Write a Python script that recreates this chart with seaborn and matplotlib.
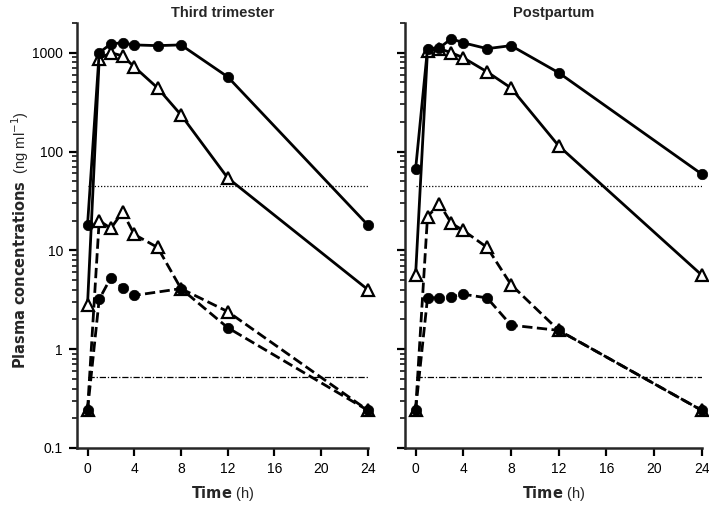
import numpy as np
import pandas as pd
import matplotlib
matplotlib.use("Agg")
import matplotlib.pyplot as plt
import matplotlib.ticker as mticker
import seaborn as sns

# ---- data ----
time_h = [0, 1, 2, 3, 4, 6, 8, 12, 24]

# Third trimester
tt_solid_circle = [18, 1000, 1230, 1260, 1200, 1180, 1200, 570, 18]
tt_solid_tri = [2.8, 870, 1000, 930, 720, 440, 235, 54, 4.0]
tt_dash_tri = [0.24, 20, 16.7, 24.5, 14.5, 10.7, 4.1, 2.4, 0.24]
tt_dash_circle = [0.24, 3.2, 5.3, 4.2, 3.5, None, 4.1, 1.65, 0.24]

# Postpartum
pp_solid_circle = [66, 1100, 1120, 1390, 1260, 1100, 1180, 627, 59]
pp_solid_tri = [5.6, 1050, 1100, 1000, 890, 640, 440, 114, 5.6]
pp_dash_tri = [0.24, 22, 29.5, 18.8, 15.9, 10.7, 4.5, 1.55, 0.24]
pp_dash_circle = [0.24, 3.3, 3.3, 3.4, 3.6, 3.3, 1.75, 1.55, 0.24]

ref_upper = 45
ref_lower = 0.52

panel_titles = ["Third trimester", "Postpartum"]
x_ticks = [0, 4, 8, 12, 16, 20, 24]
y_ticks = [0.1, 1, 10, 100, 1000]
y_ticklabels = ["0.1", "1", "10", "100", "1000"]

sns.set_style("ticks")
plt.rcParams["font.family"] = ["Liberation Sans", "DejaVu Sans"]

fig = plt.figure(figsize=(7.09, 5.11), dpi=100)
ax1 = fig.add_axes([0.1086, 0.1233, 0.519 - 0.1086, 0.955 - 0.1233])
ax2 = fig.add_axes([0.571, 0.1233, 0.990 - 0.571, 0.955 - 0.1233])

panels = [
    (ax1, tt_solid_circle, tt_solid_tri, tt_dash_tri, tt_dash_circle, panel_titles[0]),
    (ax2, pp_solid_circle, pp_solid_tri, pp_dash_tri, pp_dash_circle, panel_titles[1]),
]

lw = 2.0
ms = 7.5
mew = 1.6
dash = (3.2, 1.6)


def frame(vals):
    return pd.DataFrame({"t": time_h, "c": vals}).dropna()


for i, (ax, sc, st, dt, dc, title) in enumerate(panels):
    ax.set_yscale("log")
    ax.hlines(ref_upper, 0, 24, colors="black", linestyles=(0, (1, 1.5)), linewidth=0.9, zorder=1)
    ax.hlines(ref_lower, 0, 24, colors="black", linestyles=(0, (5, 1.5, 1, 1.5)), linewidth=0.9, zorder=1)

    # triangles first (white filled), circles on top
    sns.lineplot(data=frame(dt), x="t", y="c", ax=ax, color="black", lw=lw,
                 marker="^", markersize=ms + 1, markerfacecolor="white",
                 markeredgecolor="black", markeredgewidth=mew,
                 linestyle="--", dashes=dash, clip_on=False, zorder=3)
    sns.lineplot(data=frame(st), x="t", y="c", ax=ax, color="black", lw=lw,
                 marker="^", markersize=ms + 1, markerfacecolor="white",
                 markeredgecolor="black", markeredgewidth=mew,
                 clip_on=False, zorder=3)
    sns.lineplot(data=frame(dc), x="t", y="c", ax=ax, color="black", lw=lw,
                 marker="o", markersize=ms, markerfacecolor="black",
                 markeredgecolor="black", markeredgewidth=0.5,
                 linestyle="--", dashes=dash, clip_on=False, zorder=4)
    sns.lineplot(data=frame(sc), x="t", y="c", ax=ax, color="black", lw=lw,
                 marker="o", markersize=ms, markerfacecolor="black",
                 markeredgecolor="black", markeredgewidth=0.5,
                 clip_on=False, zorder=4)

    ax.set_xlim(-0.9, 24)
    ax.set_ylim(0.1, 2000)
    ax.set_xticks(x_ticks)
    ax.set_xticklabels([str(t) for t in x_ticks])
    ax.yaxis.set_major_locator(mticker.FixedLocator(y_ticks))
    ax.yaxis.set_minor_locator(mticker.LogLocator(base=10, subs=np.arange(2, 10) * 1.0, numticks=20))
    ax.yaxis.set_minor_formatter(mticker.NullFormatter())
    if i == 0:
        ax.set_yticklabels(y_ticklabels)
    else:
        ax.set_yticklabels([])
    for s in ["top", "right"]:
        ax.spines[s].set_visible(False)
    for s in ["left", "bottom"]:
        ax.spines[s].set_linewidth(1.8)
    ax.tick_params(axis="both", which="major", direction="out", length=6, width=1.6,
                   labelsize=10, pad=4, colors="black")
    ax.tick_params(axis="y", which="minor", direction="out", length=3.5, width=1.3)
    ax.set_title(title, fontsize=10.5, fontweight="bold", pad=4)
    ax.set_xlabel("")
    ax.set_ylabel("")
    ax.text(0.5, -0.106, r"$\bf{Time}$ (h)", transform=ax.transAxes, ha="center",
            va="center", fontsize=10.5)

fig.text(0.028, 0.53, r"$\bf{Plasma\ concentrations}$  (ng ml$^{-1}$)", rotation=90,
         ha="center", va="center", fontsize=10.5)

fig.savefig("out.png", dpi=100)
